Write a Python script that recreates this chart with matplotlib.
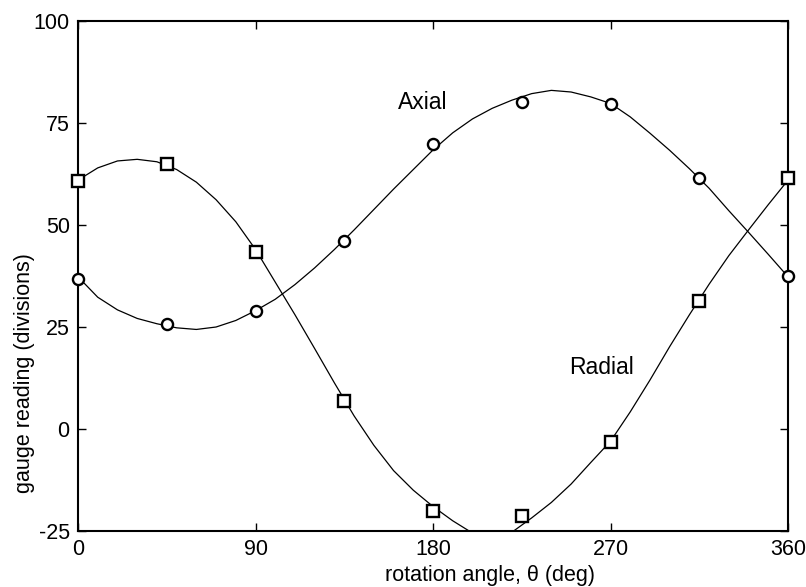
#!/usr/bin/env python3
"""
Dial gauge readings vs rotation angle (axial and radial runout).

Measured points every 45 deg plus the smooth fitted curves read off the plot.
"""

import matplotlib
matplotlib.use("Agg")
import matplotlib.pyplot as plt

# Measured gauge readings (divisions)
angle_meas = [0, 45, 90, 135, 180, 225, 270, 315, 360]
axial_meas = [36.8, 25.7, 29.0, 46.2, 69.8, 80.1, 79.6, 61.4, 37.5]
radial_meas = [60.8, 64.9, 43.5, 6.9, -20.0, -21.3, -3.1, 31.4, 61.4]

# Fitted curves, read every 10 deg
angle_fit = [0, 10, 20, 30, 40, 50, 60, 70, 80, 90, 100, 110, 120, 130,
             140, 150, 160, 170, 180, 190, 200, 210, 220, 230, 240, 250,
             260, 270, 280, 290, 300, 310, 320, 330, 340, 350, 360]
axial_fit = [37.3, 32.3, 29.2, 27.1, 25.8, 24.8, 24.4, 25.0, 26.6, 29.0,
             31.8, 35.4, 39.5, 44.0, 48.8, 53.8, 58.8, 63.6, 68.4, 72.6,
             76.0, 78.6, 80.6, 82.2, 83.0, 82.6, 81.4, 79.8, 76.5, 72.5,
             68.3, 63.8, 59.0, 53.5, 48.2, 42.8, 37.3]
radial_fit = [61.0, 64.0, 65.7, 66.1, 65.5, 63.6, 60.5, 56.2, 50.8, 44.0,
              36.0, 28.0, 19.7, 11.3, 3.2, -4.0, -10.2, -15.0, -19.0, -22.5,
              -25.5, -27.5, -25.3, -21.8, -18.0, -13.5, -8.2, -3.0, 4.2, 12.0,
              20.2, 28.0, 35.5, 42.5, 48.8, 55.0, 61.0]

x_ticks = [0, 90, 180, 270, 360]
y_ticks = [-25, 0, 25, 50, 75, 100]

plt.rcParams['font.family'] = ['Liberation Sans', 'DejaVu Sans']
plt.rcParams['axes.unicode_minus'] = False


def plot_gauge():
    fig = plt.figure(figsize=(8.06, 5.87), dpi=100)
    ax = fig.add_axes([0.0968, 0.0954, 0.8809, 0.8688])

    # fitted curves
    ax.plot(angle_fit, axial_fit, color='black', lw=0.9, zorder=2)
    ax.plot(angle_fit, radial_fit, color='black', lw=0.9, zorder=2)

    # measured points
    ax.plot(angle_meas, axial_meas, ls='none', marker='o', ms=8,
            mfc='white', mec='black', mew=1.7, zorder=3, clip_on=False)
    ax.plot(angle_meas, radial_meas, ls='none', marker='s', ms=8,
            mfc='white', mec='black', mew=1.7, zorder=3, clip_on=False)

    ax.text(162.3, 78.4, 'Axial', fontsize=16.5, ha='left', va='baseline')
    ax.text(249.1, 13.4, 'Radial', fontsize=16.5, ha='left', va='baseline')

    ax.set_xlim(0, 360)
    ax.set_ylim(-25, 100)
    ax.set_xticks(x_ticks)
    ax.set_yticks(y_ticks)
    ax.tick_params(direction='in', length=6, width=1.0, labelsize=15.5,
                   top=True, right=True, pad=6)
    for sp in ax.spines.values():
        sp.set_linewidth(1.5)

    ax.set_xlabel('rotation angle, θ (deg)', fontsize=15.5)
    ax.set_ylabel('gauge reading (divisions)', fontsize=15.5)
    ax.xaxis.set_label_coords(0.58, -0.088)
    ax.yaxis.set_label_coords(-0.076, 0.31)
    ax.yaxis.label.set_va('center')
    ax.xaxis.label.set_va('center')

    fig.savefig('out.png', dpi=100, facecolor='white')
    plt.close(fig)
    print("Saved 'out.png'")


def main():
    plot_gauge()


if __name__ == "__main__":
    main()
